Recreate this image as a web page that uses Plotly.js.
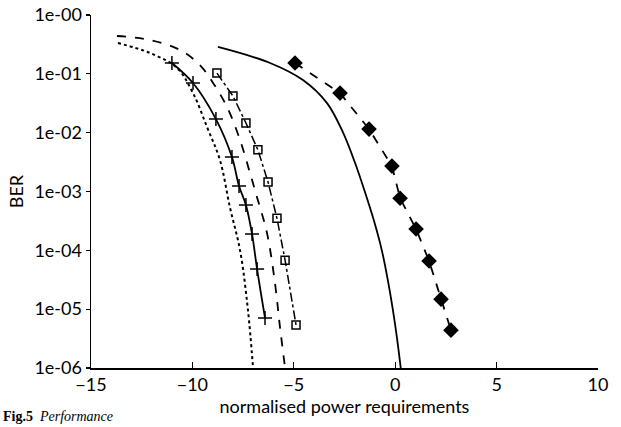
<!DOCTYPE html>
<html>
<head>
<meta charset="utf-8">
<script src="https://cdn.plot.ly/plotly-3.0.1.min.js"></script>
<style>html,body{margin:0;padding:0;background:#fff;}#chart{width:621px;height:427px;}</style>
</head>
<body>
<div id="chart"></div>
<script>
// Dotted theoretical curve
const dottedX = [-13.67, -12.09, -10.76, -9.97, -9.28, -8.64, -8.15, -7.65, -7.26, -7.01];
const dottedY = [0.334, 0.226, 0.126, 0.047, 0.0125, 0.0034, 5.4e-4, 1.0e-4, 9.6e-6, 1.0e-6];

// Solid line with + markers
const plusX = [-11.01, -9.97, -8.84, -8.05, -7.70, -7.36, -7.06, -6.81, -6.42];
const plusY = [0.153, 0.0698, 0.0170, 0.00385, 0.00124, 5.9e-4, 1.9e-4, 4.8e-5, 7.1e-6];

// Dashed curve (no markers)
const dashX = [-13.72, -12.09, -10.61, -9.63, -8.98, -8.29, -7.65, -7.16, -6.77, -6.32, -5.93, -5.68, -5.43];
const dashY = [0.44, 0.376, 0.254, 0.141, 0.070, 0.0272, 0.0075, 0.00206, 7.1e-4, 1.96e-4, 2.8e-5, 4.9e-6, 1.0e-6];

// Dash-dot line with open squares
const sqX = [-8.79, -8.00, -7.36, -6.77, -6.27, -5.83, -5.43, -4.89];
const sqY = [0.103, 0.042, 0.0146, 0.0051, 0.00145, 3.5e-4, 6.8e-5, 5.4e-6];

// Solid curve (right, no markers)
const solidX = [-8.74, -6.17, -4.55, -3.36, -2.57, -2.0, -1.5, -1.05, -0.66, -0.37, -0.12, 0.09, 0.29];
const solidY = [0.286, 0.153, 0.0785, 0.0318, 0.01, 3.2e-3, 1e-3, 3.2e-4, 1e-4, 3.2e-5, 1e-5, 3.2e-6, 9e-7];

// Dashed line with filled diamonds
const diaX = [-4.94, -2.72, -1.29, -0.16, 0.24, 1.03, 1.67, 2.26, 2.75];
const diaY = [0.153, 0.047, 0.0115, 0.0027, 7.7e-4, 2.3e-4, 6.6e-5, 1.48e-5, 4.4e-6];

const xTicks = [-15, -10, -5, 0, 5, 10];
const yTickVals = [1e-6, 1e-5, 1e-4, 1e-3, 1e-2, 1e-1, 1];
const yTickText = ["1e-06", "1e-05", "1e-04", "1e-03", "1e-02", "1e-01", "1e-00"];

const traces = [
  {x: dottedX, y: dottedY, mode: 'lines', line: {color: '#000', width: 2, dash: 'dot', shape: 'spline'}},
  {x: dashX, y: dashY, mode: 'lines', line: {color: '#000', width: 1.8, dash: 'dash', shape: 'spline'}},
  {x: plusX, y: plusY, mode: 'lines+markers', line: {color: '#000', width: 1.8, shape: 'spline'},
   marker: {symbol: 'cross-thin', size: 10, color: '#000', line: {color: '#000', width: 1.5}}},
  {x: sqX, y: sqY, mode: 'lines+markers', line: {color: '#000', width: 1.5, dash: 'dashdot'},
   marker: {symbol: 'square-open', size: 8, color: '#000', line: {color: '#000', width: 1.5}}},
  {x: solidX, y: solidY, mode: 'lines', line: {color: '#000', width: 1.8, shape: 'spline'}},
  {x: diaX, y: diaY, mode: 'lines+markers', line: {color: '#000', width: 1.8, dash: 'dash'},
   marker: {symbol: 'diamond', size: 12, color: '#000'}}
];

const fam = 'Lato, "DejaVu Sans", sans-serif';

const layout = {
  width: 621, height: 427,
  margin: {l: 91, r: 23, t: 15, b: 59},
  paper_bgcolor: '#fff', plot_bgcolor: '#fff',
  showlegend: false,
  font: {family: fam, size: 16, color: '#000'},
  xaxis: {
    range: [-15, 10], tickvals: xTicks, ticktext: xTicks.map(v => v < 0 ? '\u2212' + Math.abs(v) : String(v)),
    showgrid: false, zeroline: false, showline: true, linecolor: '#000', linewidth: 1.5,
    ticks: 'inside', ticklen: 6, tickcolor: '#000', tickwidth: 1.2,
    tickfont: {family: fam, size: 18, color: '#000'},
    title: {text: 'normalised power requirements', font: {family: fam, size: 18, color: '#000'}, standoff: 5}
  },
  yaxis: {
    type: 'log', range: [-6, 0], tickvals: yTickVals, ticktext: yTickText,
    showgrid: false, zeroline: false, showline: true, linecolor: '#000', linewidth: 1.5,
    ticks: 'outside', ticklen: 4, tickcolor: '#000', tickwidth: 1.2,
    tickfont: {family: fam, size: 18, color: '#000'},
    title: {text: 'BER', font: {family: fam, size: 18, color: '#000'}, standoff: 6}
  },
  annotations: [
    {xref: 'paper', yref: 'paper', x: -0.178, y: -0.163, xanchor: 'left', yanchor: 'bottom', showarrow: false,
     text: '<b>Fig.5</b>  <i>Performance</i>',
     font: {family: '"Liberation Serif", serif', size: 14, color: '#000'}}
  ]
};

Plotly.newPlot('chart', traces, layout, {displayModeBar: false, staticPlot: true});
</script>
</body>
</html>
